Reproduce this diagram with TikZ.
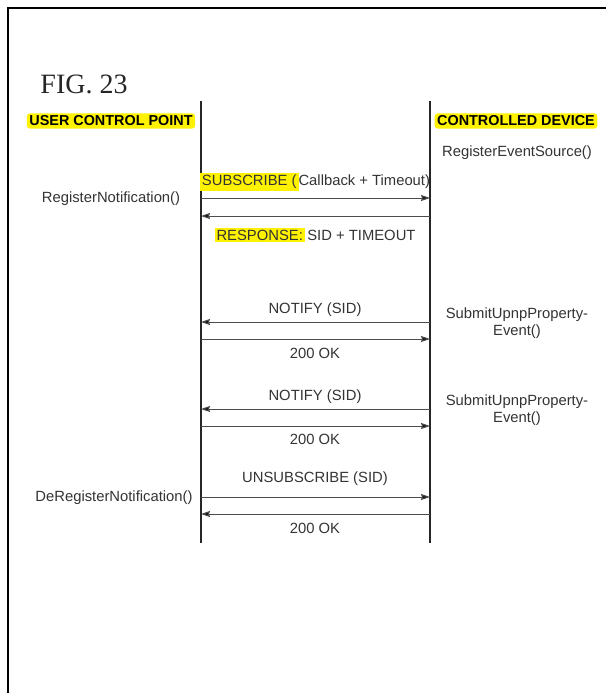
\documentclass[tikz,border=0pt]{standalone}
\usepackage{fontspec}
\setmainfont{Liberation Sans}
\newfontfamily\figfont{Liberation Serif}
\usetikzlibrary{arrows.meta,positioning}
\newcommand{\hlt}[1]{{\setlength{\fboxsep}{2pt}\colorbox{yellow}{#1}}}

\begin{document}
\begin{tikzpicture}[
    x=1pt, y=-1pt,
    lifeline/.style={line width=1.8pt, black!85},
    msg/.style={line width=1pt, black!70, -{Stealth[length=9pt,width=6pt,inset=1pt,fill=black!90]}},
    label/.style={font=\fontsize{14.8}{17.5}\selectfont, text=black!80, inner sep=0pt, align=center},
    header/.style={font=\fontsize{14.4}{16}\selectfont\bfseries, fill=yellow, rounded corners=3pt, inner sep=2.5pt, text=black}
]
\useasboundingbox (0,0) rectangle (606,693);
% Frame
\draw[line width=2pt] (8,693) -- (8,8) -- (606,8);
% Title and headers
\node[font=\figfont\fontsize{28}{30}\selectfont, text=black!85, inner sep=0pt] (fig) at (84,84) {FIG. 23};
\node[header] (ucp) at (111,121) {USER CONTROL POINT};
\node[header] (cd) at (516,121) {CONTROLLED DEVICE};
% Lifelines
\coordinate (ucpTop) at (201,101);
\coordinate (ucpBot) at (201,543);
\coordinate (cdTop) at (430,101);
\coordinate (cdBot) at (430,543);
\draw[lifeline] (ucpTop) -- (ucpBot);
\draw[lifeline] (cdTop) -- (cdBot);
% Message end points
\coordinate (u1) at (201,198); \coordinate (d1) at (430,198);
\coordinate (u2) at (201,216); \coordinate (d2) at (430,216);
\coordinate (u3) at (201,322); \coordinate (d3) at (430,322);
\coordinate (u4) at (201,339); \coordinate (d4) at (430,339);
\coordinate (u5) at (201,409); \coordinate (d5) at (430,409);
\coordinate (u6) at (201,426); \coordinate (d6) at (430,426);
\coordinate (u7) at (201,497); \coordinate (d7) at (430,497);
\coordinate (u8) at (201,514); \coordinate (d8) at (430,514);
% Messages
\draw[msg] (u1) -- (d1);
\draw[msg] (d2) -- (u2);
\draw[msg] (d3) -- (u3);
\draw[msg] (u4) -- (d4);
\draw[msg] (d5) -- (u5);
\draw[msg] (u6) -- (d6);
\draw[msg] (u7) -- (d7);
\draw[msg] (d8) -- (u8);
% Message labels
\node[label] (subscribe) at (315,182) {\hlt{SUBSCRIBE (}Callback + Timeout)};
\node[label] (response) at (315,235) {\hlt{RESPONSE:}\,SID + TIMEOUT};
\node[label] (notify1) at (315,310) {NOTIFY (SID)};
\node[label] (ok1) at (315,353) {200 OK};
\node[label] (notify2) at (315,397) {NOTIFY (SID)};
\node[label] (ok2) at (315,439) {200 OK};
\node[label] (unsub) at (315,479) {UNSUBSCRIBE (SID)};
\node[label] (ok3) at (315,528) {200 OK};
% Side calls
\node[label] (regsrc) at (517,153) {RegisterEventSource()};
\node[label] (regnot) at (111,199) {RegisterNotification()};
\node[label] (submit1) at (517,323) {SubmitUpnpProperty-\\Event()};
\node[label] (submit2) at (517,410) {SubmitUpnpProperty-\\Event()};
\node[label] (dereg) at (114,498) {DeRegisterNotification()};
\end{tikzpicture}
\end{document}
